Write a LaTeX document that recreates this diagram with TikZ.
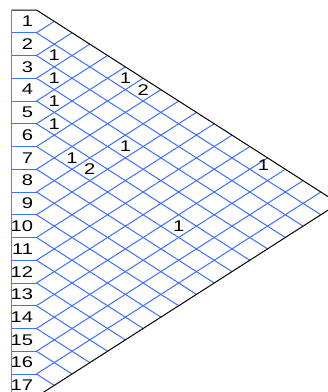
\documentclass[tikz,border=0pt]{standalone}
\usepackage{fontspec}
\setmainfont{Liberation Sans}
\newfontfamily\cellfont[FakeStretch=1.3]{Liberation Sans}
\usetikzlibrary{positioning}
\definecolor{GridBlue}{RGB}{60,110,255}
\definecolor{EdgeGray}{RGB}{128,128,128}

\begin{document}
\begin{tikzpicture}[x=1pt, y=-1pt, line width=1pt,
	cell/.style={font=\cellfont\fontsize{15.5}{17}\selectfont, inner sep=0pt}]
		\pgfmathsetmacro{\h}{22.75}
		\pgfmathsetmacro{\s}{0.64}
		\pgfmathsetmacro{\w}{\h/(2*\s)}
		\pgfmathsetmacro{\xo}{36.5}
		\pgfmathsetmacro{\yo}{10}
		
		\useasboundingbox (0,0) rectangle (328,392);
		\clip (0,0) rectangle (328,392);
		
		\coordinate (A) at (\xo,\yo);
		\coordinate (B) at (\xo,{\yo+17*\h});
		\coordinate (C) at ({\xo+17*\w},{\yo+8.5*\h});
		
		% 菱形网格
		\foreach \k in {1,...,16} {
			\coordinate (L\k) at (\xo,{\yo+\k*\h});
			\draw[GridBlue] (L\k) -- ++({(17-\k)*\w},{(17-\k)*\h/2});
			\draw[GridBlue] (L\k) -- ++({\k*\w},{-\k*\h/2});
			\draw[GridBlue] (11.5,{\yo+\k*\h}) -- (L\k);
		}
		
		\draw (11.5,\yo) -- (A) -- (C) -- (B);
		\draw[EdgeGray, line width=1.8] (11.5,\yo) -- (11.5,392);
		
		\foreach \r in {1,...,17}
			\node[cell, anchor=east] (r\r) at (33.5,{\yo+(\r-0.5)*\h}) {\r};
		
		\foreach \i/\j/\v in {2/3/1, 3/4/1, 4/5/1, 5/6/1, 1/6/1, 1/7/2,
			4/9/1, 6/8/1, 6/9/2, 6/14/1}
			\node[cell] (c\i-\j) at ({\xo+(\j-\i)*\w},{\yo+(\i+\j-1)*\h/2}) {\v};
		\node[cell] (c1-14) at ({\xo+13*\w-4},{\yo+7*\h-4}) {1};
	\end{tikzpicture}
\end{document}
